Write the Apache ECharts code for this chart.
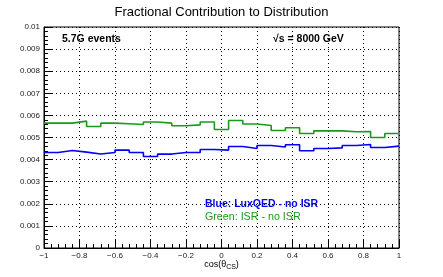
<!DOCTYPE html>
<html><head><meta charset="utf-8">
<script src="https://cdn.jsdelivr.net/npm/echarts@6/dist/echarts.min.js"></script>
<style>html,body{margin:0;padding:0;background:#fff}#c{width:443px;height:277px}</style>
</head><body><div id="c"></div>
<script>
var binEdges = [-1,-0.92,-0.84,-0.76,-0.68,-0.6,-0.52,-0.44,-0.36,-0.28,-0.2,-0.12,-0.04,0.04,0.12,0.2,0.28,0.36,0.44,0.52,0.6,0.68,0.76,0.84,0.92,1];
var blueVals = [0.00432,0.00441,0.00434,0.00425,0.00432,0.00443,0.00432,0.00414,0.00425,0.00432,0.00432,0.00446,0.00443,0.00459,0.00450,0.00464,0.00457,0.00467,0.00440,0.00450,0.00453,0.00464,0.00468,0.00455,0.00461];
var greenVals = [0.00565,0.00565,0.00574,0.00550,0.00565,0.00562,0.00559,0.00570,0.00565,0.00553,0.00557,0.00570,0.00536,0.00577,0.00561,0.00554,0.00532,0.00544,0.00518,0.00530,0.00530,0.00526,0.00527,0.00500,0.00518];
var xTicks = [-1,-0.8,-0.6,-0.4,-0.2,0,0.2,0.4,0.6,0.8,1];
var yTicks = [0,0.001,0.002,0.003,0.004,0.005,0.006,0.007,0.008,0.009,0.01];

function stepData(vals){
  var d = [];
  for (var i=0;i<vals.length;i++) d.push([binEdges[i], vals[i]]);
  d.push([binEdges[binEdges.length-1], vals[vals.length-1]]);
  return d;
}
var F = 'Liberation Sans, Arial, sans-serif';
var chart = echarts.init(document.getElementById('c'), null, {renderer:'canvas'});
chart.setOption({
  animation:false,
  backgroundColor:'#fff',
  title:{text:'Fractional Contribution to Distribution', left:'center', top:1,
    textStyle:{fontFamily:F, fontSize:13, fontWeight:'normal', color:'#000'}},
  grid:{left:44, right:44, top:27, bottom:29, containLabel:false, outerBoundsMode:'none',
    show:true, borderColor:'#000', borderWidth:1, backgroundColor:'transparent'},
  xAxis:{type:'value', min:xTicks[0], max:xTicks[xTicks.length-1], interval:0.2,
    axisLine:{onZero:false, lineStyle:{color:'#000', width:1}},
    axisTick:{inside:true, length:8, lineStyle:{color:'#000'}},
    minorTick:{show:true, splitNumber:5, length:4, lineStyle:{color:'#000'}},
    splitLine:{show:true, lineStyle:{color:'#000', type:[1,3], width:1}},
    axisLabel:{fontFamily:F, fontSize:8, color:'#222', margin:4,
      formatter:function(v){var s=String(parseFloat(v.toFixed(2))); return s.replace('-','\u2212');}},
    name:'cos(θ{s|CS})', nameLocation:'middle', nameGap:10, nameMoveOverlap:false,
    nameTextStyle:{fontFamily:F, fontSize:9, color:'#000', rich:{s:{fontFamily:F, fontSize:7, verticalAlign:'bottom', padding:[6,0,0,0]}}}
  },
  yAxis:{type:'value', min:yTicks[0], max:yTicks[yTicks.length-1], interval:0.001,
    axisLine:{onZero:false, lineStyle:{color:'#000', width:1}},
    axisTick:{inside:true, length:8, lineStyle:{color:'#000'}},
    minorTick:{show:true, splitNumber:5, length:4, lineStyle:{color:'#000'}},
    splitLine:{show:true, lineStyle:{color:'#000', type:[1,3], width:1}},
    axisLabel:{fontFamily:F, fontSize:8, color:'#222', margin:4,
      formatter:function(v){return String(parseFloat(v.toFixed(4)));}}
  },
  series:[
    {type:'line', step:'end', data:stepData(greenVals), showSymbol:false, symbol:'none',
      lineStyle:{color:'#1a9a1a', width:1.6}, z:3},
    {type:'line', step:'end', data:stepData(blueVals), showSymbol:false, symbol:'none',
      lineStyle:{color:'#0000ff', width:1.6}, z:3}
  ],
  graphic:[
    {type:'text', left:62, top:34, z:10, style:{text:'5.7G events', font:'bold 10.5px '+F, fill:'#000'}},
    {type:'text', left:273, top:34, z:10, style:{text:'√s = 8000 GeV', font:'bold 10.5px '+F, fill:'#000'}},
    {type:'text', left:205, top:199, z:10, style:{text:'Blue: LuxQED - no ISR', font:'bold 10.5px '+F, fill:'#0000ff'}},
    {type:'text', left:205, top:212, z:10, style:{text:'Green: ISR - no ISR', font:'10.7px '+F, fill:'#1a9a1a'}}
  ]
});
</script></body></html>
